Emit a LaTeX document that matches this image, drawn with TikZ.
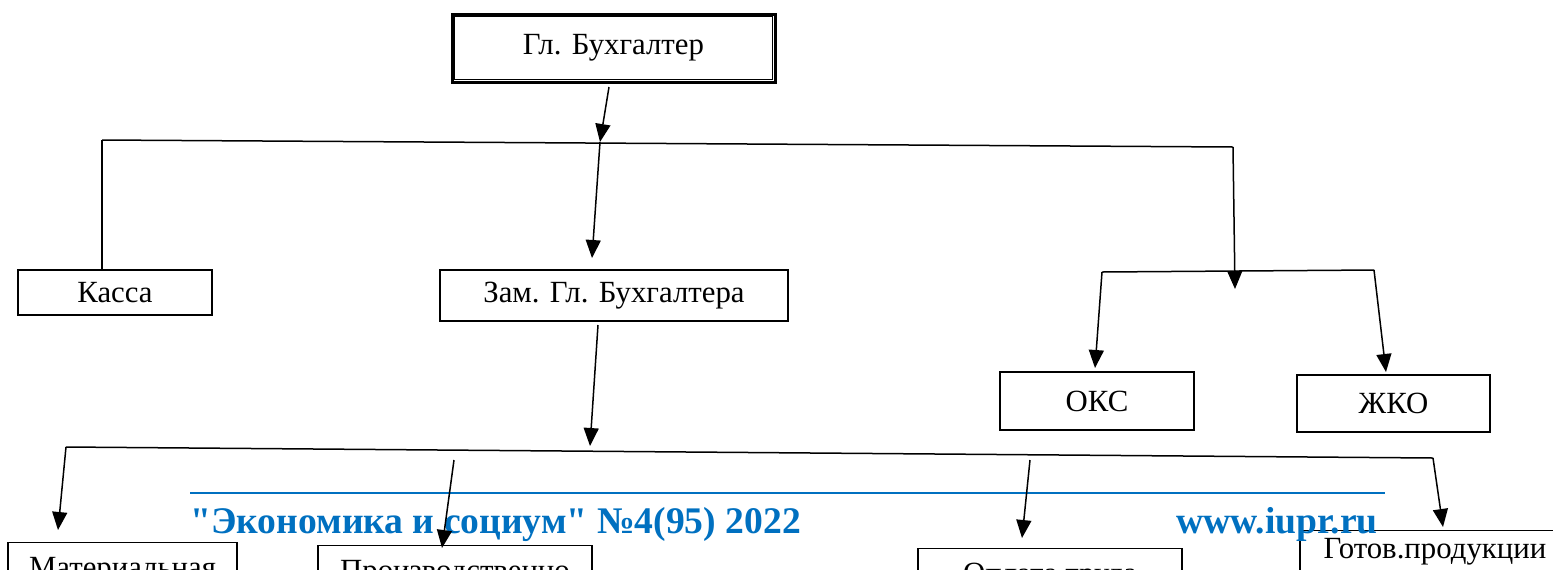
\documentclass[tikz,border=0pt]{standalone}
\usepackage{fontspec}
\setmainfont{Liberation Serif}
\newfontfamily\journalfont{Liberation Serif}
\usetikzlibrary{positioning,arrows.meta}
\definecolor{iupr}{RGB}{0,112,192}

\begin{document}
\begin{tikzpicture}[
x=0.5pt,
y=-0.5pt,
unit/.style={
  draw,
  line width=0.6pt,
  inner sep=0pt,
  font=\fontsize{15.4}{18}\selectfont
  },
lower/.style={
  unit,
  anchor=north,
  inner ysep=6.5pt,
  text height=11pt,
  text depth=4pt
  },
link/.style={
  line width=0.75pt
  },
journal/.style={
  font=\journalfont\fontsize{18.8}{21}\selectfont\bfseries,
  text=iupr,
  inner sep=0pt
  },
>={Triangle[length=9pt,width=7.5pt]}
]
\useasboundingbox (0,0) rectangle (1553,569);
\clip (0,0) rectangle (1553,569);

\node[unit, line width=1.5pt, minimum width=161.5pt, minimum height=34pt] (chief) at (613.5,48) {Гл. Бухгалтер};
\draw[line width=0.5pt] ([shift={(4,4)}]chief.north west) rectangle ([shift={(-4,-4)}]chief.south east);
\node[unit, minimum width=97pt, minimum height=22.5pt] (kassa) at (115,292.5) {Касса};
\node[unit, minimum width=174pt, minimum height=25.5pt] (deputy) at (614,295.5) {Зам. Гл. Бухгалтера};
\node[unit, minimum width=97pt, minimum height=29pt] (oks) at (1097,401) {ОКС};
\node[unit, minimum width=96.5pt, minimum height=28.5pt] (zhko) at (1393.5,403.5) {ЖКО};
\node[lower, minimum width=114.5pt] (mat) at (122.5,542) {Материальная};
\node[lower, minimum width=137pt] (prod) at (455,545) {Производственно};
\node[lower, minimum width=132pt] (ops) at (1050,548) {Оплата труда};
\node[lower, minimum width=135pt, inner ysep=3pt] (gotov) at (1435,530) {Готов.продукции};

% journal header
\draw[iupr, line width=1.2pt] (190,493) -- (1385,493);
\node[journal, anchor=base west] (issue) at (190,533) {"Экономика и социум" №4(95) 2022};
\node[journal, anchor=base east] (site) at (1378,533) {www.iupr.ru};

\coordinate (top) at (609,87);
\coordinate (hub) at (600,142);
\coordinate (bar1w) at (102,140);
\coordinate (bar1e) at (1233,147);
\coordinate (dep) at (592,258);
\coordinate (side) at (1235,289);
\coordinate (bar2w) at (1102,272);
\coordinate (bar2e) at (1374,270);
\coordinate (oksin) at (1095,368);
\coordinate (zhkoin) at (1386,372);
\coordinate (down) at (598,325);
\coordinate (hub2) at (590,446);
\coordinate (bar3w) at (66,447);
\coordinate (bar3e) at (1433,458);

\draw[link,->] (top) -- (hub);
\draw[link] (bar1w) -- (bar1e);
\draw[link] (bar1w) -- (bar1w |- kassa.north);
\draw[link,->] (hub) -- (dep);
\draw[link,->] (bar1e) -- (side);
\draw[link] (bar2w) -- (bar2e);
\draw[link,->] (bar2w) -- (oksin);
\draw[link,->] (bar2e) -- (zhkoin);
\draw[link,->] (down) -- (hub2);
\draw[link] (bar3w) -- (bar3e);
\foreach \name/\xa/\ya/\xb/\yb in {mat/66/447/58/530, prod/454/460/442/548,
    ops/1030/460/1022/538, gotov/1433/458/1443/527}
{
  \coordinate (\name-from) at (\xa,\ya);
  \coordinate (\name-to) at (\xb,\yb);
  \draw[link,->] (\name-from) -- (\name-to);
}
\end{tikzpicture}
\end{document}
